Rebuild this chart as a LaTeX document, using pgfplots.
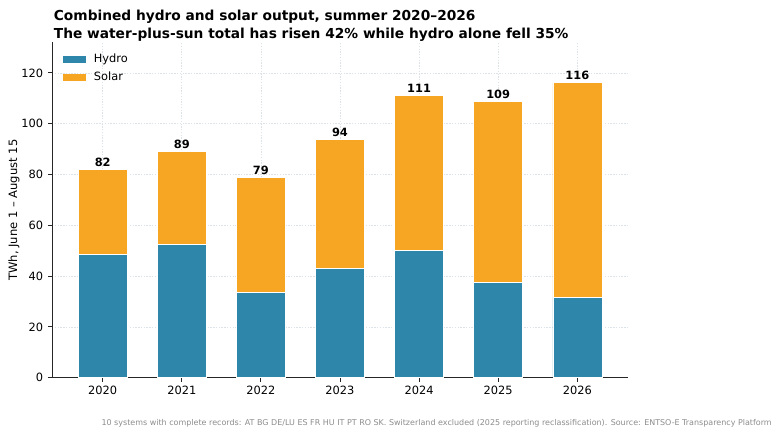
\documentclass[border=0pt]{standalone}
\usepackage{pgfplots}
\pgfplotsset{compat=1.18}
\usepackage{pgfplotstable}
\usepackage{fontspec}
\setmainfont{DejaVu Sans}
\definecolor{hydro}{HTML}{2E86AB}
\definecolor{solar}{HTML}{F6A623}
\definecolor{gridc}{HTML}{DCE3E8}
\definecolor{foot}{HTML}{8C8C8C}
\pgfplotstableread{
x hydro solar total
0 48.5 33.5 82.0
1 52.5 36.5 89.0
2 33.6 45.2 78.8
3 43.0 50.7 93.7
4 50.1 61.1 111.2
5 37.6 71.1 108.7
6 31.6 84.6 116.2
}\datatable
\pgfplotsset{common/.style={
  at={(37.44pt,41.26pt)}, anchor=south west,
  scale only axis, width=414.7pt, height=241.4pt,
  xmin=-0.641, xmax=6.641, ymin=0, ymax=132,
  /pgf/number format/assume math mode=true}}
\begin{document}
\begin{tikzpicture}[x=1pt,y=1pt]
\path[use as bounding box] (0,0) rectangle (561.6,313.2);
\begin{axis}[
  common,
  ybar stacked, bar width=0.62,
  xtick={0,...,6}, xticklabels={2020,2021,2022,2023,2024,2025,2026},
  ytick={0,20,...,120},
  axis x line*=bottom, axis y line*=left,
  axis line style={black!85, line width=0.6pt},
  tick align=outside, major tick length=2.8pt,
  tick style={black!85, line width=0.6pt},
  tick label style={font=\fontsize{8.2}{9.5}\selectfont},
  grid=major,
  major grid style={gridc, line width=0.5pt, dash pattern=on 1pt off 1pt},
  ylabel={TWh, June 1 – August 15},
  ylabel style={at={(axis description cs:-0.066,0.5)}, anchor=center, font=\fontsize{8.3}{9.5}\selectfont},
  legend style={at={(axis description cs:0.013,0.982)}, anchor=north west, draw=none, fill=none,
    font=\fontsize{8.2}{9.5}\selectfont, row sep=1.2pt, inner sep=2pt,
    /tikz/every odd column/.append style={column sep=4pt}},
  legend cell align=left,
  legend image code/.code={\fill[#1,draw=none] (0pt,-2.65pt) rectangle (16.6pt,2.65pt);},
]
\addplot[fill=hydro, draw=white, line width=0.3pt] table[x=x,y=hydro] {\datatable};
\addlegendentry{Hydro}
\addplot[fill=solar, draw=white, line width=0.3pt] table[x=x,y=solar] {\datatable};
\addlegendentry{Solar}
\end{axis}
\begin{axis}[common, hide axis]
\addplot[draw=none, mark=none,
  point meta=explicit,
  nodes near coords={\pgfmathprintnumber[fixed,precision=0]{\pgfplotspointmeta}},
  every node near coord/.append style={font=\bfseries\fontsize{8.2}{9.5}\selectfont, text=black, inner sep=2pt, anchor=south},
  ] table[x=x,y=total,meta=total] {\datatable};
\end{axis}
\node[anchor=base west, inner sep=0pt, font=\bfseries\fontsize{9.9}{11}\selectfont] at (38.6,298.4) {Combined hydro and solar output, summer 2020–2026};
\node[anchor=base west, inner sep=0pt, font=\bfseries\fontsize{9.9}{11}\selectfont] at (38.6,285.6) {The water-plus-sun total has risen 42\% while hydro alone fell 35\%};
\node[anchor=base east, inner sep=0pt, text=foot, font=\fontsize{5.75}{7}\selectfont] at (555.8,6.5) {10 systems with complete records: AT BG DE/LU ES FR HU IT PT RO SK. Switzerland excluded (2025 reporting reclassification). Source: ENTSO-E Transparency Platform};
\end{tikzpicture}
\end{document}
